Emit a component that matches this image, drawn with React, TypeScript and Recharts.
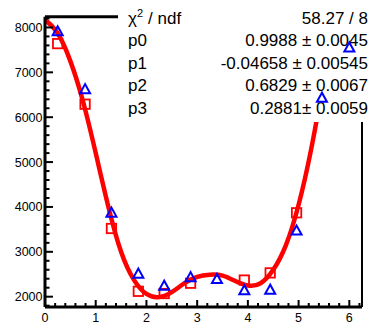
import { ComposedChart, Line, Scatter, XAxis, YAxis, ReferenceLine } from 'recharts';

// fit curve
const fitX = [0, 0.25, 0.5, 0.75, 1.0, 1.25, 1.5, 1.75, 2.0, 2.25, 2.5, 2.75, 3.0, 3.25, 3.5, 3.75, 4.0, 4.25, 4.5, 4.75, 5.0, 5.25, 5.5, 5.75];
const fitY = [8170, 7870, 7250, 6350, 5200, 4000, 3000, 2380, 2060, 1990, 2100, 2300, 2440, 2490, 2470, 2350, 2250, 2300, 2600, 3150, 4050, 5300, 6900, 8800];

// blue open triangles
const triX = [0.25, 0.79, 1.31, 1.84, 2.35, 2.87, 3.39, 3.93, 4.44, 4.96, 5.46, 6.0];
const triY = [7920, 6630, 3880, 2520, 2250, 2440, 2400, 2150, 2160, 3480, 6440, 7560];

// red open squares
const sqX = [0.25, 0.79, 1.31, 1.84, 2.35, 2.87, 3.93, 4.44, 4.96];
const sqY = [7640, 6290, 3520, 2120, 2070, 2300, 2370, 2530, 3870];

const xTicks = [0, 0.2, 0.4, 0.6, 0.8, 1, 1.2, 1.4, 1.6, 1.8, 2, 2.2, 2.4, 2.6, 2.8, 3, 3.2, 3.4, 3.6, 3.8, 4, 4.2, 4.4, 4.6, 4.8, 5, 5.2, 5.4, 5.6, 5.8, 6, 6.2];
const yTicks = [1800, 2000, 2200, 2400, 2600, 2800, 3000, 3200, 3400, 3600, 3800, 4000, 4200, 4400, 4600, 4800, 5000, 5200, 5400, 5600, 5800, 6000, 6200, 6400, 6600, 6800, 7000, 7200, 7400, 7600, 7800, 8000, 8200];

const statNames = ['p0', 'p1', 'p2', 'p3'];
const statValues = ['0.9988 ± 0.0045', '-0.04658 ± 0.00545', '0.6829 ± 0.0067', '0.2881± 0.0059'];
const chi2Text = '58.27 / 8';

const X_DOMAIN: [number, number] = [0, 6.25];
const Y_DOMAIN: [number, number] = [1770, 8240];
const W = 373;
const H = 326;
const FONT = '"Liberation Sans", Arial, Helvetica, sans-serif';

const fitData = fitX.map((x, i) => ({ x, y: fitY[i] }));
const triData = triX.map((x, i) => ({ x, y: triY[i] }));
const sqData = sqX.map((x, i) => ({ x, y: sqY[i] }));

const YTick = ({ x, y, payload }: any) => {
  const v = payload.value;
  const major = v % 1000 === 0;
  return (
    <g>
      <line x1={x} x2={x + (major ? 8 : 4.5)} y1={y} y2={y} stroke="#000" strokeWidth={2} />
      {major && (
        <text x={x - 2.5} y={y + 4.5} textAnchor="end" fontSize={12.5} fontFamily={FONT} fill="#000">
          {v}
        </text>
      )}
    </g>
  );
};

const XTick = ({ x, y, payload }: any) => {
  const v = payload.value;
  const major = Number.isInteger(v);
  return (
    <g>
      <line x1={x} x2={x} y1={y} y2={y - (major ? 7 : 4)} stroke="#000" strokeWidth={2} />
      {major && (
        <text x={x} y={y + 14.5} textAnchor="middle" fontSize={12.5} fontFamily={FONT} fill="#000">
          {v}
        </text>
      )}
    </g>
  );
};

const Triangle = ({ cx, cy }: any) => (
  <polygon
    points={`${cx},${cy - 4.8} ${cx - 5},${cy + 4.3} ${cx + 5},${cy + 4.3}`}
    fill="none"
    stroke="#0000ff"
    strokeWidth={2}
  />
);

const Square = ({ cx, cy }: any) => (
  <rect x={cx - 4.7} y={cy - 4.7} width={9.4} height={9.4} fill="none" stroke="#ff0000" strokeWidth={1.8} />
);

function StatsBox() {
  const rowY = [46, 68.5, 91, 113.5];
  return (
    <svg width={W} height={H} style={{ position: 'absolute', left: 0, top: 0 }}>
      <rect x={118} y={0} width={W - 118} height={122} fill="#fff" />
      <text x={128} y={23.5} fontSize={17} fontFamily={FONT} fill="#000">
        χ<tspan fontSize={11} dy={-7}>2</tspan>
        <tspan dy={7} dx={5}>/ ndf</tspan>
      </text>
      <text x={368} y={23.5} textAnchor="end" fontSize={17} fontFamily={FONT} fill="#000">
        {chi2Text}
      </text>
      {statNames.map((n, i) => (
        <g key={n}>
          <text x={128} y={rowY[i]} fontSize={17} fontFamily={FONT} fill="#000">
            {n}
          </text>
          <text x={368} y={rowY[i]} textAnchor="end" fontSize={17} fontFamily={FONT} fill="#000">
            {statValues[i]}
          </text>
        </g>
      ))}
    </svg>
  );
}

export default function App() {
  return (
    <div style={{ position: 'relative', width: W, height: H, background: '#fff' }}>
      <style>{'body{margin:0}'}</style>
      <div style={{ position: 'absolute', left: 0, top: 0 }}>
        <ComposedChart width={W} height={H} margin={{ top: 16.7, right: 11, bottom: 0, left: 0 }}>
          <XAxis
            type="number"
            dataKey="x"
            domain={X_DOMAIN}
            ticks={xTicks}
            interval={0}
            allowDataOverflow
            height={19}
            tickSize={0}
            tickMargin={0}
            tickLine={false}
            tick={<XTick />}
            axisLine={{ stroke: '#000', strokeWidth: 3 }}
          />
          <YAxis
            type="number"
            dataKey="y"
            domain={Y_DOMAIN}
            ticks={yTicks}
            interval={0}
            allowDataOverflow
            width={45}
            tickSize={0}
            tickMargin={0}
            tickLine={false}
            tick={<YTick />}
            axisLine={{ stroke: '#000', strokeWidth: 3 }}
          />
          <ReferenceLine y={Y_DOMAIN[1]} stroke="#000" strokeWidth={3} />
          <ReferenceLine x={X_DOMAIN[1]} stroke="#000" strokeWidth={2} />
          <Scatter data={sqData} dataKey="y" shape={<Square />} isAnimationActive={false} />
          <Line
            data={fitData}
            dataKey="y"
            type="natural"
            stroke="#ff0000"
            strokeWidth={4.5}
            dot={false}
            activeDot={false}
            isAnimationActive={false}
          />
        </ComposedChart>
      </div>
      <StatsBox />
      <div style={{ position: 'absolute', left: 0, top: 0 }}>
        <ComposedChart width={W} height={H} margin={{ top: 16.7, right: 11, bottom: 19, left: 45 }}>
          <XAxis type="number" dataKey="x" domain={X_DOMAIN} allowDataOverflow hide />
          <YAxis type="number" dataKey="y" domain={Y_DOMAIN} allowDataOverflow hide />
          <Scatter data={triData} dataKey="y" shape={<Triangle />} isAnimationActive={false} />
        </ComposedChart>
      </div>
    </div>
  );
}
